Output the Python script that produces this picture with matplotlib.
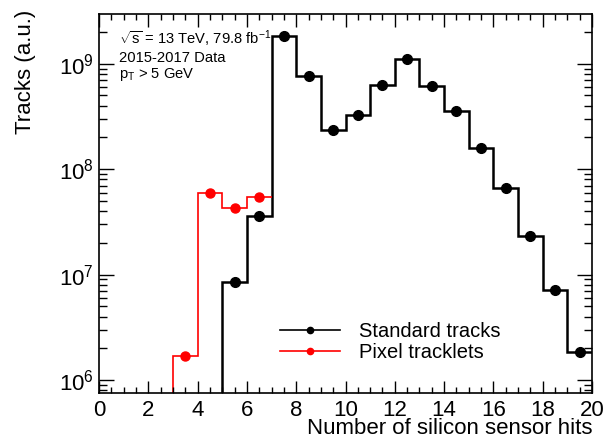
import numpy as np
import matplotlib
matplotlib.use("Agg")
import matplotlib.pyplot as plt
from matplotlib.ticker import MultipleLocator, LogLocator, NullFormatter

plt.rcParams['font.family'] = ['Liberation Sans', 'DejaVu Sans']
plt.rcParams['mathtext.fontset'] = 'custom'
plt.rcParams['mathtext.rm'] = 'Liberation Sans'
plt.rcParams['mathtext.it'] = 'Liberation Sans:italic'
plt.rcParams['mathtext.bf'] = 'Liberation Sans:bold'

# histogram contents, one value per unit bin starting at 0
edges_std = np.arange(0, 21)
standard = [0, 0, 0, 0, 0, 8.6e6, 3.6e7, 1.85e9, 7.7e8, 2.35e8,
            3.25e8, 6.3e8, 1.1e9, 6.1e8, 3.6e8, 1.58e8, 6.7e7, 2.3e7,
            7.1e6, 1.85e6]
edges_pix = np.arange(0, 8)
pixel = [0, 0, 0, 1.7e6, 5.9e7, 4.3e7, 5.5e7]

labels = ["Standard tracks", "Pixel tracklets"]
ymin, ymax = 7.5e5, 2.96e9

fig = plt.figure(figsize=(6.06, 4.43), dpi=100)
ax = fig.add_axes([0.1634, 0.1122, 0.8135, 0.8562])

def draw_hist(edges, vals, color, lw, ms, label):
    vals = np.asarray(vals, dtype=float)
    shown = np.where(vals > 0, vals, 1e-3)
    ax.stairs(shown, edges, color=color, lw=lw, baseline=None)
    centers = 0.5 * (edges[:-1] + edges[1:])
    m = vals > 0
    ax.plot(centers[m], vals[m], 'o', color=color, ms=ms)
    # legend proxy
    ax.plot([], [], '-o', color=color, lw=1.2, ms=4.5, label=label)

draw_hist(edges_std, standard, 'black', 1.8, 7, labels[0])
draw_hist(edges_pix, pixel, 'red', 1.2, 6.5, labels[1])

ax.set_yscale('log')
ax.set_xlim(0, 20)
ax.set_ylim(ymin, ymax)

ax.xaxis.set_major_locator(MultipleLocator(2))
ax.xaxis.set_minor_locator(MultipleLocator(0.5))
ax.yaxis.set_major_locator(LogLocator(base=10, numticks=10))
ax.yaxis.set_minor_locator(LogLocator(base=10, subs=np.arange(2, 10), numticks=20))
ax.yaxis.set_minor_formatter(NullFormatter())

ax.tick_params(axis='both', which='both', direction='in', top=True, right=True,
               labelsize=16, width=1)
ax.tick_params(axis='x', which='major', length=9, pad=5)
ax.tick_params(axis='x', which='minor', length=4.5)
ax.tick_params(axis='y', which='major', length=11, pad=4)
ax.tick_params(axis='y', which='minor', length=6)
for s in ax.spines.values():
    s.set_linewidth(1.2)

ax.set_xlabel("Number of silicon sensor hits", fontsize=16, loc='right',
              va='baseline')
ax.xaxis.set_label_coords(1.0, -0.106)
fig.text(26 / 606, 1 - 10 / 443, "Tracks (a.u.)", rotation=90, ha='center',
         va='top', fontsize=16)

ax.text(0.0407, 0.935, r"$\sqrt{\mathrm{s}}$ = 13 TeV, 79.8 fb$^{\mathrm{-1}}$",
        transform=ax.transAxes, fontsize=10.6, va='center')
ax.text(0.0407, 0.885, "2015-2017 Data", transform=ax.transAxes, fontsize=10.6,
        va='center')
ax.text(0.0407, 0.840, r"p$_{\mathrm{T}}$ > 5 GeV", transform=ax.transAxes,
        fontsize=10.6, va='center')

ax.legend(loc='center left', bbox_to_anchor=(0.368, 0.135), frameon=False,
          fontsize=14.5, handlelength=2.98, handletextpad=0.9, labelspacing=0.1,
          borderaxespad=0, borderpad=0)

fig.savefig("out.png", dpi=100)
